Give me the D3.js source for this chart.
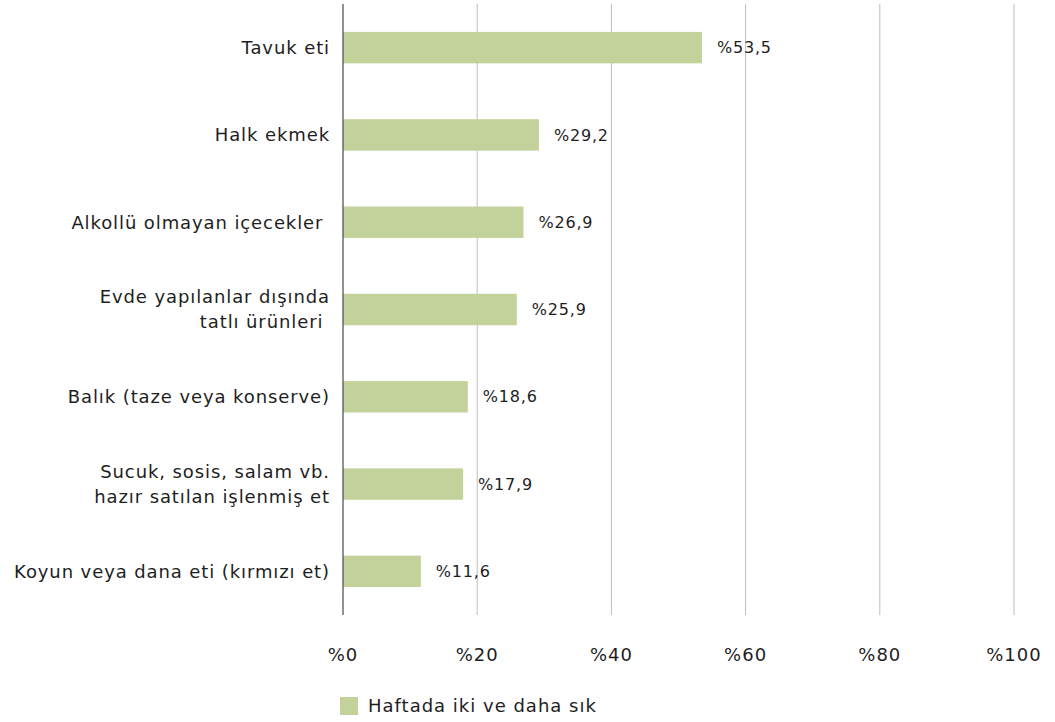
<!DOCTYPE html>
<html>
<head>
<meta charset="utf-8">
<script src="https://cdn.jsdelivr.net/npm/d3@7"></script>
<style>
  body { margin: 0; background: #fff; }
  text { font-family: "DejaVu Sans", "Noto Sans", sans-serif; fill: #1e1e1e; }
</style>
</head>
<body>
<div id="chart"></div>
<script>
const width = 1055,
  height = 722;

// data
const categories = [
  ["Tavuk eti"],
  ["Halk ekmek"],
  ["Alkollü olmayan içecekler "],
  ["Evde yapılanlar dışında", "tatlı ürünleri "],
  ["Balık (taze veya konserve)"],
  ["Sucuk, sosis, salam vb.", "hazır satılan işlenmiş et"],
  ["Koyun veya dana eti (kırmızı et)"]
];
const values = [53.5, 29.2, 26.9, 25.9, 18.6, 17.9, 11.6];
const valueLabels = ["%53,5", "%29,2", "%26,9", "%25,9", "%18,6", "%17,9", "%11,6"];
const ticks = [0, 20, 40, 60, 80, 100];
const seriesName = "Haftada iki ve daha sık";
const barColor = "#c3d29a";

const margin = { top: 4, right: 41, bottom: 107, left: 343 };

const svg = d3.select("#chart")
  .append("svg")
  .attr("width", width)
  .attr("height", height);

const x = d3.scaleLinear()
  .domain([0, 100])
  .range([margin.left, width - margin.right]);

const y = d3.scaleBand()
  .domain(d3.range(categories.length))
  .range([margin.top, height - margin.bottom])
  .paddingInner(0.64)
  .paddingOuter(0.32);

// gridlines
svg.append("g")
  .selectAll("line")
  .data(ticks.filter(t => t > 0))
  .enter()
  .append("line")
  .attr("x1", d => x(d))
  .attr("x2", d => x(d))
  .attr("y1", margin.top)
  .attr("y2", height - margin.bottom)
  .attr("stroke", "#bdbdbd")
  .attr("stroke-width", 1);

// bars
svg.append("g")
  .selectAll("rect")
  .data(values)
  .enter()
  .append("rect")
  .attr("x", x(0))
  .attr("y", (d, i) => y(i))
  .attr("width", d => x(d) - x(0))
  .attr("height", y.bandwidth())
  .attr("fill", barColor);

// axis line
svg.append("line")
  .attr("x1", x(0))
  .attr("x2", x(0))
  .attr("y1", margin.top)
  .attr("y2", height - margin.bottom)
  .attr("stroke", "#555")
  .attr("stroke-width", 1.3);

// value labels
svg.append("g")
  .selectAll("text")
  .data(values)
  .enter()
  .append("text")
  .attr("x", d => x(d) + 15)
  .attr("y", (d, i) => y(i) + y.bandwidth() / 2)
  .attr("dy", "0.35em")
  .attr("font-size", 16)
  .attr("letter-spacing", 0.8)
  .text((d, i) => valueLabels[i]);

// category labels
const catG = svg.append("g")
  .selectAll("text")
  .data(categories)
  .enter()
  .append("text")
  .attr("text-anchor", "end")
  .attr("font-size", 18)
  .attr("letter-spacing", 0.9)
  .attr("y", (d, i) => y(i) + y.bandwidth() / 2)
  .style("white-space", "pre")
  .attr("xml:space", "preserve");

catG.selectAll("tspan")
  .data(d => d.map((line, j) => ({ line, j, n: d.length })))
  .enter()
  .append("tspan")
  .attr("x", 330)
  .attr("dy", d => d.j === 0 ? ((0.35 - (d.n - 1) * 0.7) + "em") : "1.4em")
  .text(d => d.line);

// x tick labels
svg.append("g")
  .selectAll("text")
  .data(ticks)
  .enter()
  .append("text")
  .attr("x", d => x(d))
  .attr("y", 655)
  .attr("dy", "0.35em")
  .attr("text-anchor", "middle")
  .attr("font-size", 18)
  .attr("letter-spacing", 1)
  .text(d => "%" + d);

// legend
const legend = svg.append("g").attr("transform", "translate(340,697)");
legend.append("rect")
  .attr("width", 18)
  .attr("height", 18)
  .attr("fill", barColor);
legend.append("text")
  .attr("x", 28)
  .attr("y", 9)
  .attr("dy", "0.35em")
  .attr("font-size", 18)
  .attr("letter-spacing", 1)
  .text(seriesName);
</script>
</body>
</html>
